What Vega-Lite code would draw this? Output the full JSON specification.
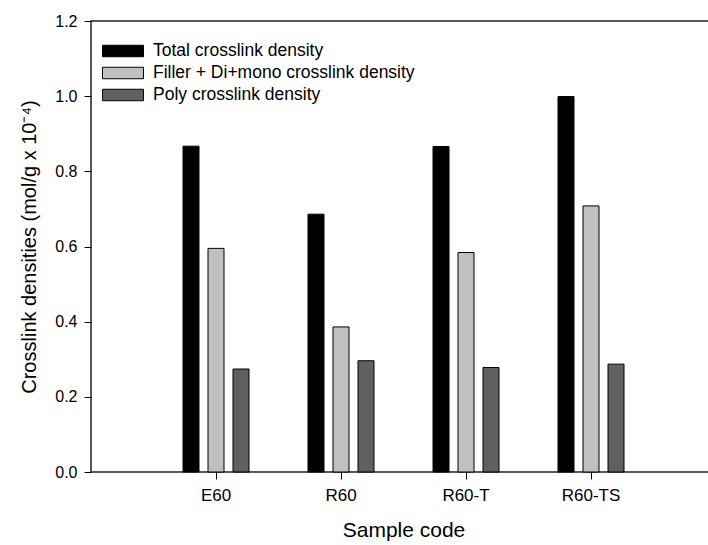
{
  "$schema": "https://vega.github.io/schema/vega-lite/v6.json",
  "width": 618,
  "height": 451,
  "autosize": {"type": "none"},
  "padding": {"left": 91, "top": 21, "right": 0, "bottom": 73},
  "background": "white",
  "config": {
    "font": "Liberation Sans",
    "view": {"stroke": "#222", "strokeWidth": 1.5},
    "axis": {"grid": false, "domain": false, "tickColor": "#000", "tickSize": 7, "tickWidth": 1, "labelColor": "#000", "titleColor": "#000", "labelFont": "Liberation Sans", "titleFont": "Liberation Sans", "titleFontWeight": "normal"}
  },
  "data": {
    "values": [
      {"sample": "E60", "series": "Total crosslink density", "value": 0.867},
      {"sample": "E60", "series": "Filler + Di+mono crosslink density", "value": 0.595},
      {"sample": "E60", "series": "Poly crosslink density", "value": 0.274},
      {"sample": "R60", "series": "Total crosslink density", "value": 0.686},
      {"sample": "R60", "series": "Filler + Di+mono crosslink density", "value": 0.386},
      {"sample": "R60", "series": "Poly crosslink density", "value": 0.296},
      {"sample": "R60-T", "series": "Total crosslink density", "value": 0.866},
      {"sample": "R60-T", "series": "Filler + Di+mono crosslink density", "value": 0.584},
      {"sample": "R60-T", "series": "Poly crosslink density", "value": 0.278},
      {"sample": "R60-TS", "series": "Total crosslink density", "value": 0.999},
      {"sample": "R60-TS", "series": "Filler + Di+mono crosslink density", "value": 0.708},
      {"sample": "R60-TS", "series": "Poly crosslink density", "value": 0.287}
    ]
  },
  "mark": {"type": "bar", "stroke": "#000", "strokeWidth": 1},
  "encoding": {
    "x": {
      "field": "sample",
      "type": "nominal",
      "sort": ["E60", "R60", "R60-T", "R60-TS"],
      "scale": {"range": [62.5, 562.5], "paddingInner": 0, "paddingOuter": 0},
      "axis": {"labelAngle": 0, "labelFontSize": 17, "labelPadding": 8, "title": "Sample code", "titleFontSize": 21, "titlePadding": 16}
    },
    "xOffset": {
      "field": "series",
      "sort": ["Total crosslink density", "Filler + Di+mono crosslink density", "Poly crosslink density"],
      "scale": {"range": [25, 100], "paddingInner": 0.36, "paddingOuter": 0.18}
    },
    "y": {
      "field": "value",
      "type": "quantitative",
      "scale": {"domain": [0, 1.2], "nice": false},
      "axis": {"values": [0, 0.2, 0.4, 0.6, 0.8, 1.0, 1.2], "format": ".1f", "labelFontSize": 16, "labelPadding": 7, "title": "Crosslink densities (mol/g x 10⁻⁴)", "titleFontSize": 20, "titlePadding": 15}
    },
    "fill": {
      "field": "series",
      "type": "nominal",
      "sort": ["Total crosslink density", "Filler + Di+mono crosslink density", "Poly crosslink density"],
      "scale": {"domain": ["Total crosslink density", "Filler + Di+mono crosslink density", "Poly crosslink density"], "range": ["#000000", "#c0c0c0", "#606060"]},
      "legend": {
        "title": null,
        "orient": "none",
        "legendX": 21,
        "legendY": 19,
        "symbolType": "M-2,-0.56H2V0.56H-2Z",
        "symbolSize": 420,
        "symbolStrokeColor": "#000",
        "symbolStrokeWidth": 1,
        "labelFontSize": 17.5,
        "labelColor": "#000",
        "labelOffset": 19,
        "labelLimit": 400,
        "rowPadding": 2,
        "padding": 0
      }
    }
  }
}
